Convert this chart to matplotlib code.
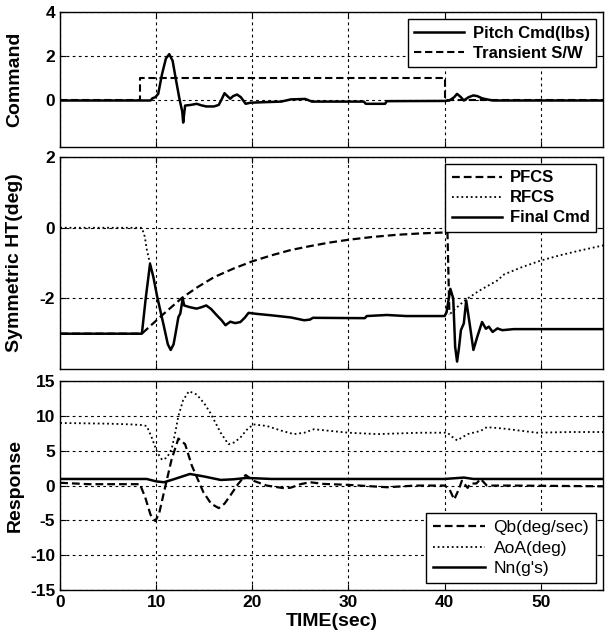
import numpy as np
import matplotlib
matplotlib.use("Agg")
import matplotlib.pyplot as plt

plt.rcParams['font.family'] = ['Liberation Sans', 'DejaVu Sans']
plt.rcParams['axes.unicode_minus'] = False

# ---- top panel: command ----
switch = [(0, 0), (8.3, 0), (8.3, 1), (40.0, 1), (40.0, 0), (56.5, 0)]
pitch = [(0, 0), (9.4, 0), (9.6, 0.1), (9.9, 0.15), (10.2, 0.3), (10.6, 1.2),
         (11.0, 1.9), (11.35, 2.1), (11.7, 1.8), (12.0, 1.05), (12.4, 0.1),
         (12.7, -0.5), (12.8, -1.0), (12.9, -0.6), (13.0, -0.23), (13.6, -0.2),
         (14.2, -0.15), (14.7, -0.22), (15.2, -0.27), (16.0, -0.27), (16.5, -0.2),
         (16.8, 0.05), (17.1, 0.33), (17.4, 0.2), (17.7, 0.08), (18.0, 0.2),
         (18.4, 0.27), (18.8, 0.15), (19.3, -0.15), (19.8, -0.1), (21, -0.08),
         (23, -0.05), (24, 0.05), (25.5, 0.07), (26.2, -0.05), (31.6, -0.05),
         (31.8, -0.15), (33.8, -0.15), (34.0, -0.03), (40, -0.02), (40.5, 0.0),
         (41.0, 0.15), (41.3, 0.3), (41.7, 0.15), (42.0, 0.0), (42.5, 0.15),
         (43.0, 0.23), (43.4, 0.2), (43.9, 0.1), (44.2, 0.07), (45, 0.0), (56.5, 0.0)]

# ---- middle panel: symmetric HT ----
pfcs = [(0, -3), (8.5, -3), (9.5, -2.75), (10.8, -2.43), (12.7, -1.98), (14.3, -1.68),
        (16, -1.4), (18, -1.16), (20, -0.95), (22, -0.78), (24, -0.63), (26, -0.52),
        (28, -0.42), (30, -0.34), (32.5, -0.26), (35, -0.2), (37.5, -0.16),
        (40.3, -0.13), (40.5, -2.45)]
rfcs = [(0, 0), (8.5, 0), (8.8, -0.25), (9.0, -0.6), (9.35, -1.02), (np.nan, np.nan),
        (40.6, -2.43), (41.5, -2.2), (42.2, -2.04), (43.5, -1.8), (45.5, -1.49),
        (46.2, -1.32), (48, -1.12), (50, -0.93), (52, -0.78), (54, -0.65), (56.5, -0.5)]
final_cmd = [(0, -3), (8.5, -3), (8.9, -2.0), (9.35, -1.02), (9.7, -1.4), (10.1, -1.96),
             (10.8, -2.8), (11.2, -3.3), (11.5, -3.46), (11.8, -3.3), (12.0, -3.0),
             (12.3, -2.53), (12.5, -2.43), (12.75, -2.0), (12.9, -2.2), (13.5, -2.25),
             (14.2, -2.29), (14.7, -2.25), (15.2, -2.2), (15.7, -2.3), (16.3, -2.48),
             (16.8, -2.62), (17.2, -2.76), (17.7, -2.66), (18.2, -2.7), (18.75, -2.67),
             (19.2, -2.55), (19.6, -2.41), (20.5, -2.44), (22, -2.48), (24, -2.54),
             (25.4, -2.62), (26.0, -2.6), (26.3, -2.55), (31.7, -2.56), (31.9, -2.5),
             (34, -2.47), (36, -2.5), (40.0, -2.5), (40.2, -2.4), (40.6, -1.73),
             (40.9, -2.0), (41.1, -3.37), (41.3, -3.79), (41.5, -3.4), (41.7, -2.9),
             (42.0, -2.71), (42.25, -2.06), (42.6, -2.7), (43.0, -3.46), (43.4, -3.09),
             (43.9, -2.67), (44.3, -2.86), (44.6, -2.8), (45.0, -2.95), (45.5, -2.85),
             (46, -2.9), (47.2, -2.87), (56.5, -2.87)]

# ---- bottom panel: response ----
qb = [(0, 0.4), (3, 0.2), (8.3, 0.2), (8.85, -1.7), (9.4, -4.2), (9.9, -5.1),
      (10.3, -4.0), (10.8, -0.95), (11.6, 3.8), (12.3, 6.76), (13.0, 5.95),
      (13.7, 2.86), (14.9, -0.95), (15.7, -2.6), (16.5, -3.24), (17.1, -2.6),
      (17.7, -1.43), (18.5, 0.2), (19.3, 1.52), (20.1, 0.7), (21.5, 0.0),
      (23.3, -0.38), (24, -0.3), (25, 0.2), (26, 0.48), (27.4, 0.24), (30, 0.1),
      (34, -0.24), (37, 0), (40, 0), (40.5, -0.5), (41.0, -2.0), (41.5, -0.48),
      (41.8, 0.7), (42.4, -0.33), (42.7, 0.3), (43.3, 0.3), (43.75, 0.95),
      (44.4, 0.0), (47, 0), (56.5, -0.1)]
aoa = [(0, 9.0), (5, 8.9), (7.3, 8.8), (8.5, 8.7), (9.0, 8.57), (9.5, 7.0),
       (10.1, 4.76), (10.6, 3.7), (11.1, 4.0), (11.6, 5.24), (12.0, 7.8),
       (12.3, 10.0), (12.8, 12.3), (13.4, 13.57), (14.2, 13.1), (15.0, 11.8),
       (15.6, 10.5), (16.7, 7.6), (17.5, 5.95), (18.1, 6.2), (18.75, 6.9),
       (19.4, 8.0), (20.1, 8.8), (21.5, 8.57), (23, 7.9), (24.3, 7.4), (25.4, 7.6),
       (26.4, 8.1), (28.1, 7.86), (30, 7.6), (33, 7.4), (37.5, 7.6), (40.3, 7.6),
       (40.8, 7.0), (41.3, 6.5), (42.4, 7.4), (43.75, 7.86), (44.4, 8.4),
       (46.1, 8.2), (49.6, 7.6), (53, 7.7), (56.5, 7.7)]
nn = [(0, 0.95), (9.0, 0.95), (10.0, 0.6), (10.8, 0.48), (11.8, 0.9), (13.5, 1.67),
      (15, 1.3), (16.7, 0.81), (18, 0.9), (19.4, 1.1), (22, 0.95), (30, 0.95),
      (40, 0.95), (42, 1.15), (43, 0.95), (56.5, 0.95)]


def xy(pairs):
    a = np.array(pairs, dtype=float)
    return a[:, 0], a[:, 1]


fig = plt.figure(figsize=(6.08, 6.44), dpi=100)
ax1 = fig.add_axes([0.099, 0.772, 0.893, 0.209])
ax2 = fig.add_axes([0.099, 0.427, 0.893, 0.329])
ax3 = fig.add_axes([0.099, 0.084, 0.893, 0.324])

dash = (0, (3.5, 1.8))
dot = (0, (1, 1.6))

ax1.plot(*xy(pitch), color='black', lw=1.8, label='Pitch Cmd(lbs)')
ax1.plot(*xy(switch), color='black', lw=1.5, ls=dash, label='Transient S/W')

ax2.plot(*xy(pfcs), color='black', lw=1.6, ls=dash, label='PFCS')
ax2.plot(*xy(rfcs), color='black', lw=1.3, ls=dot, label='RFCS')
ax2.plot(*xy(final_cmd), color='black', lw=1.8, label='Final Cmd')

ax3.plot(*xy(qb), color='black', lw=1.6, ls=dash, label='Qb(deg/sec)')
ax3.plot(*xy(aoa), color='black', lw=1.3, ls=dot, label='AoA(deg)')
ax3.plot(*xy(nn), color='black', lw=1.8, label="Nn(g's)")

ax1.set_ylim(-2.1, 4)
ax1.set_yticks([0, 2, 4])
ax2.set_ylim(-4, 2)
ax2.set_yticks([-2, 0, 2])
ax3.set_ylim(-15, 15)
ax3.set_yticks([-15, -10, -5, 0, 5, 10, 15])

for ax, lab in [(ax1, 'Command'), (ax2, 'Symmetric HT(deg)'), (ax3, 'Response')]:
    ax.set_xlim(0, 56.5)
    ax.set_xticks([0, 10, 20, 30, 40, 50])
    ax.grid(True, color='black', lw=0.8, ls=(0, (2.5, 3)))
    ax.tick_params(direction='in', top=True, right=True, labelsize=12.5, length=4)
    for t in ax.get_xticklabels() + ax.get_yticklabels():
        t.set_fontweight('bold')
    ax.set_ylabel(lab, fontsize=14, fontweight='bold')
    ax.yaxis.set_label_coords(-0.068, 0.5)
    for s in ax.spines.values():
        s.set_linewidth(1.0)

ax1.tick_params(labelbottom=False)
ax2.tick_params(labelbottom=False)
ax3.set_xlabel('TIME(sec)', fontsize=14, fontweight='bold', labelpad=2)

leg_kw = dict(fancybox=False, edgecolor='black', framealpha=1,
              handlelength=3.0, handletextpad=0.5, borderpad=0.4, labelspacing=0.3,
              borderaxespad=0.4)
for ax, loc, weight, size in [(ax1, 'upper right', 'bold', 12),
                              (ax2, 'upper right', 'bold', 12),
                              (ax3, 'lower right', 'normal', 12.5)]:
    leg = ax.legend(loc=loc, prop={'weight': weight, 'size': size}, **leg_kw)
    leg.get_frame().set_linewidth(1.0)

fig.savefig('out.png', dpi=100)
